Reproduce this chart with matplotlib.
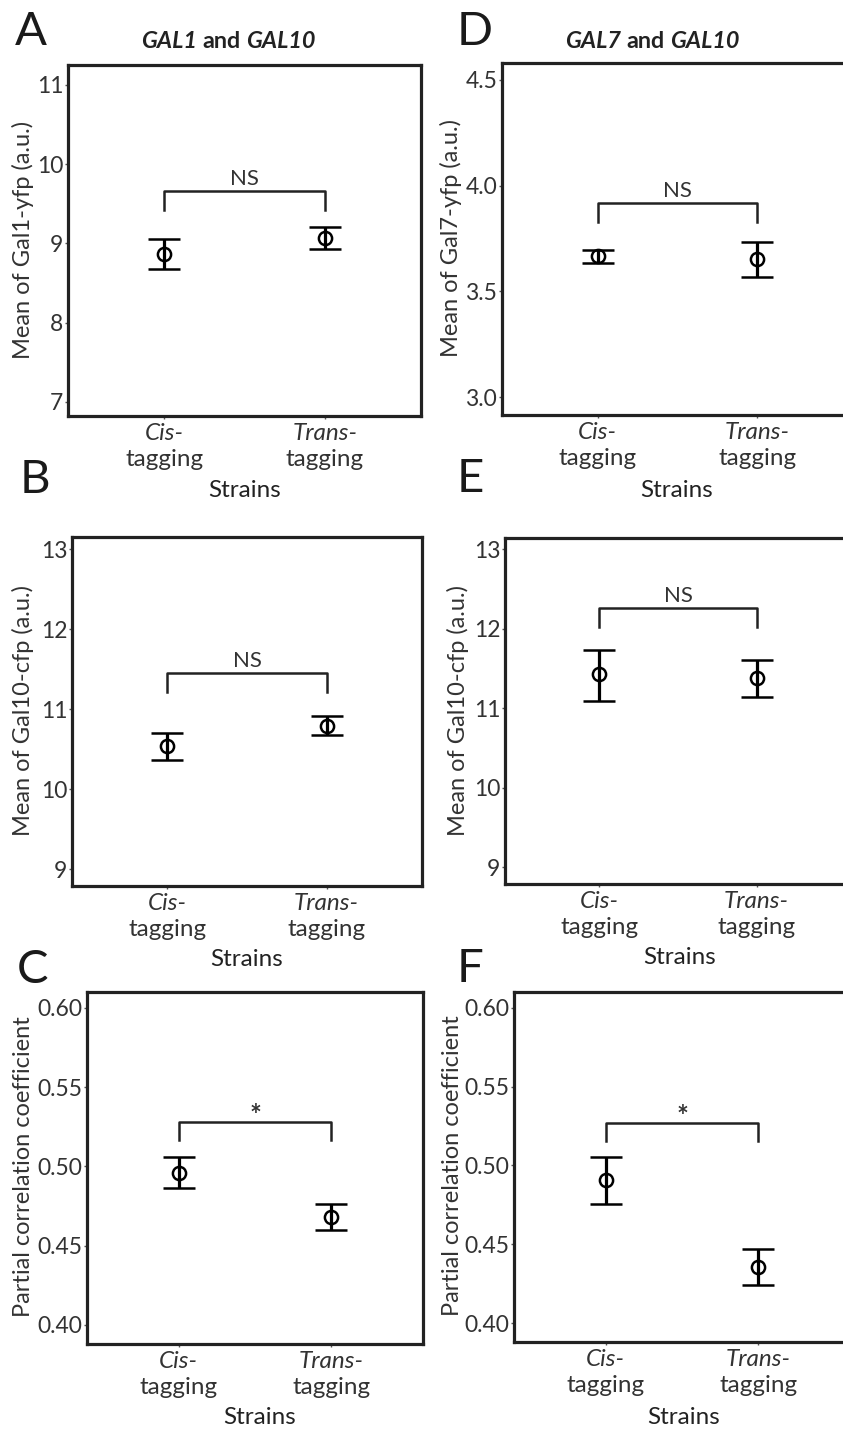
import matplotlib
matplotlib.use("Agg")
import matplotlib.pyplot as plt
import numpy as np

plt.rcParams['font.family'] = ['Lato', 'DejaVu Sans']

# categories
strains = ["Cis-", "Trans-"]

# GAL1 and GAL10 pair
gal1_mean = [8.87, 9.07]
gal1_lo = [8.67, 8.93]
gal1_hi = [9.06, 9.21]

gal10_a_mean = [10.54, 10.79]
gal10_a_lo = [10.36, 10.68]
gal10_a_hi = [10.70, 10.91]

pcc_a_mean = [0.4956, 0.4684]
pcc_a_lo = [0.4861, 0.4600]
pcc_a_hi = [0.5057, 0.4760]

# GAL7 and GAL10 pair
gal7_mean = [3.666, 3.652]
gal7_lo = [3.633, 3.566]
gal7_hi = [3.694, 3.733]

gal10_b_mean = [11.43, 11.38]
gal10_b_lo = [11.09, 11.14]
gal10_b_hi = [11.73, 11.60]

pcc_b_mean = [0.4906, 0.4354]
pcc_b_lo = [0.4756, 0.4239]
pcc_b_hi = [0.5056, 0.4469]

W, H = 843, 1433
fig = plt.figure(figsize=(W / 100, H / 100), dpi=100)
fig.patch.set_facecolor('white')

TXT = '#333333'


def px_axes(l, t, r, b):
    return fig.add_axes([l / W, 1 - b / H, (r - l) / W, (b - t) / H])


def draw_panel(ax, mean, lo, hi, ylim, yticks, fmt, sig, top, leg):
    x = np.arange(1, len(strains) + 1)
    mean = np.array(mean)
    err = [mean - np.array(lo), np.array(hi) - mean]
    ax.errorbar(x, mean, yerr=err, fmt='o', mfc='none', mec='black', ms=9.5, mew=1.8,
                ecolor='black', elinewidth=2.3, capsize=11.5, capthick=2.6, zorder=3)
    ax.plot([1, 1, 2, 2], [leg, top, top, leg], color='#222222', lw=1.8)
    if sig == '*':
        ax.annotate(sig, (1.5, top), xytext=(0, 4), textcoords='offset points',
                    ha='center', va='center', fontsize=20, fontweight='bold', color=TXT)
    else:
        ax.annotate(sig, (1.5, top), xytext=(0, 8.5), textcoords='offset points',
                    ha='center', va='center', fontsize=16, color=TXT)
    ax.set_xlim(0.4, 2.6)
    ax.set_ylim(ylim)
    ax.set_yticks(yticks)
    ax.set_yticklabels([fmt % v for v in yticks])
    ax.set_xticks(x)
    ax.set_xticklabels([])
    for xi, s in zip(x, strains):
        ax.annotate(s, (xi, 0), xycoords=('data', 'axes fraction'), xytext=(0, -12.5),
                    textcoords='offset points', ha='center', va='center',
                    style='italic', fontsize=17.5, color=TXT, annotation_clip=False)
        ax.annotate('tagging', (xi, 0), xycoords=('data', 'axes fraction'), xytext=(0, -31),
                    textcoords='offset points', ha='center', va='center',
                    fontsize=17.5, color=TXT, annotation_clip=False)
    for sp in ax.spines.values():
        sp.set_linewidth(2.3)
        sp.set_color('#222222')
    ax.tick_params(length=2.5, width=1, color='#555555', labelsize=16.5,
                   labelcolor=TXT, pad=1)


def fig_text(x, y, s, **kw):
    return fig.text(x / W, 1 - y / H, s, **kw)


# axes boxes in pixels (left, top, right, bottom)
axA = px_axes(68, 65, 421, 416)
axB = px_axes(72, 537, 422, 886)
axC = px_axes(87, 992, 423, 1344)
axD = px_axes(502, 63, 853, 415)
axE = px_axes(505, 538, 851, 884)
axF = px_axes(514, 992, 850, 1342)

t5 = [0.40, 0.45, 0.50, 0.55, 0.60]
draw_panel(axA, gal1_mean, gal1_lo, gal1_hi, (6.82, 11.25), [7, 8, 9, 10, 11], '%d', 'NS', 9.66, 9.42)
draw_panel(axB, gal10_a_mean, gal10_a_lo, gal10_a_hi, (8.79, 13.15), [9, 10, 11, 12, 13], '%d', 'NS', 11.45, 11.21)
draw_panel(axC, pcc_a_mean, pcc_a_lo, pcc_a_hi, (0.388, 0.610), t5, '%.2f', '*', 0.528, 0.5165)
draw_panel(axD, gal7_mean, gal7_lo, gal7_hi, (2.915, 4.58), [3.0, 3.5, 4.0, 4.5], '%.1f', 'NS', 3.917, 3.83)
draw_panel(axE, gal10_b_mean, gal10_b_lo, gal10_b_hi, (8.79, 13.14), [9, 10, 11, 12, 13], '%d', 'NS', 12.26, 12.02)
draw_panel(axF, pcc_b_mean, pcc_b_lo, pcc_b_hi, (0.388, 0.610), t5, '%.2f', '*', 0.527, 0.5156)

# y labels
lab_kw = dict(rotation=90, ha='center', va='center', fontsize=17, color=TXT)
fig_text(23, 240, 'Mean of Gal1-yfp (a.u.)', **lab_kw)
fig_text(23, 711, 'Mean of Gal10-cfp (a.u.)', **lab_kw)
fig_text(24, 1167, 'Partial correlation coefficient', **lab_kw)
fig_text(451, 238, 'Mean of Gal7-yfp (a.u.)', **lab_kw)
fig_text(458, 711, 'Mean of Gal10-cfp (a.u.)', **lab_kw)
fig_text(452, 1166, 'Partial correlation coefficient', **lab_kw)

# x titles
for xc, yc in [(245, 490), (247, 960), (260, 1418), (677, 490), (680, 958), (684, 1418)]:
    fig_text(xc, yc, 'Strains', ha='center', va='center', fontsize=17.5, color='#222222')

# panel letters
for s, xl, yb in [('A', 15, 45), ('B', 20, 493), ('C', 17, 983),
                  ('D', 457, 45), ('E', 457, 492), ('F', 457, 982)]:
    fig_text(xl, yb, s, ha='left', va='baseline', fontsize=34, color='#1a1a1a')


# titles with mixed italic
def mixed_title(xc, yb, parts):
    renderer = fig.canvas.get_renderer()
    probe1 = fig.text(0, 0, 'x x', fontsize=16.8, fontweight='bold')
    probe2 = fig.text(0, 0, 'xx', fontsize=16.8, fontweight='bold')
    gap = probe1.get_window_extent(renderer).width - probe2.get_window_extent(renderer).width
    probe1.remove()
    probe2.remove()
    texts, widths = [], []
    for s, st in parts:
        t = fig.text(0, 0, s, fontsize=16.8, fontweight='bold', style=st, color='#222222',
                     va='baseline', ha='left')
        widths.append(t.get_window_extent(renderer).width)
        texts.append(t)
    total = sum(widths) + gap * (len(parts) - 1)
    x0 = xc - total / 2
    for t, w in zip(texts, widths):
        t.set_position((x0 / W, 1 - yb / H))
        x0 += w + gap


mixed_title(228, 48, [('GAL1', 'italic'), ('and', 'normal'), ('GAL10', 'italic')])
mixed_title(652, 48, [('GAL7', 'italic'), ('and', 'normal'), ('GAL10', 'italic')])

fig.savefig('out.png', dpi=100, facecolor='white')
